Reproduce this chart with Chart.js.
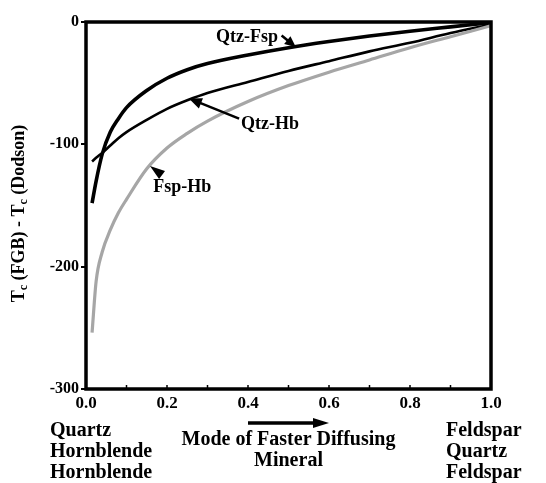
<!DOCTYPE html>
<html>
<head>
<meta charset="utf-8">
<script src="https://cdn.jsdelivr.net/npm/chart.js@4/dist/chart.umd.min.js"></script>
<style>
  html, body { margin: 0; padding: 0; background: #fff; }
  #wrap { width: 546px; height: 483px; position: relative; }
</style>
</head>
<body>
<div id="wrap"><canvas id="c" width="546" height="483"></canvas></div>
<script>
// ---- data ----
const modeX   = [0.015, 0.025, 0.04, 0.06, 0.08, 0.1, 0.15, 0.2, 0.25, 0.3, 0.4, 0.5, 0.6, 0.7, 0.8, 0.9, 1.0];
const qtzFsp  = [-148, -130, -108, -90, -79, -70, -56, -46, -39, -34, -27, -21, -16, -11.5, -7.5, -4, -0.5];
const qtzHb   = [-114, -111, -107, -101, -95, -90, -80, -71, -64, -58, -49, -40, -32, -24, -17, -9, -2];
const fspHb   = [-254, -212, -188, -170, -156, -145, -120, -103, -91, -81, -65, -52, -41, -31, -21, -12, -3];
const seriesNames = ['Qtz-Fsp', 'Qtz-Hb', 'Fsp-Hb'];
const xTickValues = [0, 0.2, 0.4, 0.6, 0.8, 1.0];
const xMinorTicks = [0, 0.1, 0.2, 0.3, 0.4, 0.5, 0.6, 0.7, 0.8, 0.9, 1.0];
const yTickValues = [-300, -200, -100, 0];
const leftLabels  = ['Quartz', 'Hornblende', 'Hornblende'];
const rightLabels = ['Feldspar', 'Quartz', 'Feldspar'];
const xTitleLines = ['Mode of Faster Diffusing', 'Mineral'];

const SERIF = '"Liberation Serif", "DejaVu Serif", serif';
const pts = ys => modeX.map((x, i) => ({ x: x, y: ys[i] }));

function arrowHead(ctx, x1, y1, x2, y2, len, half) {
  const ang = Math.atan2(y2 - y1, x2 - x1);
  ctx.beginPath();
  ctx.moveTo(x2, y2);
  ctx.lineTo(x2 - len * Math.cos(ang) + half * Math.sin(ang), y2 - len * Math.sin(ang) - half * Math.cos(ang));
  ctx.lineTo(x2 - len * Math.cos(ang) - half * Math.sin(ang), y2 - len * Math.sin(ang) + half * Math.cos(ang));
  ctx.closePath();
  ctx.fill();
}
function arrow(ctx, x1, y1, x2, y2, w, len, half) {
  const ang = Math.atan2(y2 - y1, x2 - x1);
  ctx.lineWidth = w;
  ctx.beginPath();
  ctx.moveTo(x1, y1);
  ctx.lineTo(x2 - (len - 1) * Math.cos(ang), y2 - (len - 1) * Math.sin(ang));
  ctx.stroke();
  arrowHead(ctx, x1, y1, x2, y2, len, half);
}

const decor = {
  id: 'decor',
  afterDraw(chart) {
    const { ctx, chartArea: a, scales: { x, y } } = chart;
    ctx.save();
    ctx.strokeStyle = '#000';
    ctx.fillStyle = '#000';
    // frame
    ctx.lineWidth = 3.5;
    ctx.strokeRect(a.left, a.top, a.right - a.left, a.bottom - a.top);
    // inward minor ticks on x axis
    ctx.lineWidth = 1.5;
    xMinorTicks.forEach(v => {
      const px = x.getPixelForValue(v);
      ctx.beginPath(); ctx.moveTo(px, a.bottom); ctx.lineTo(px, a.bottom - 4); ctx.stroke();
    });

    // curve labels
    ctx.font = 'bold 18px ' + SERIF;
    ctx.textBaseline = 'middle';
    ctx.textAlign = 'right';
    ctx.fillText(seriesNames[0], x.getPixelForValue(0.474), y.getPixelForValue(-12.3));
    arrow(ctx, x.getPixelForValue(0.483), y.getPixelForValue(-11), x.getPixelForValue(0.518), y.getPixelForValue(-20.5), 2.5, 11, 5);

    ctx.textAlign = 'left';
    ctx.fillText(seriesNames[1], x.getPixelForValue(0.383), y.getPixelForValue(-83.4));
    arrow(ctx, x.getPixelForValue(0.378), y.getPixelForValue(-79), x.getPixelForValue(0.254), y.getPixelForValue(-62.5), 2.5, 13, 5.5);

    ctx.fillText(seriesNames[2], x.getPixelForValue(0.166), y.getPixelForValue(-135));
    arrowHead(ctx, x.getPixelForValue(0.196), y.getPixelForValue(-127), x.getPixelForValue(0.158), y.getPixelForValue(-117.7), 15, 5);

    // bottom labels
    ctx.font = 'bold 20px ' + SERIF;
    ctx.textAlign = 'left';
    leftLabels.forEach((t, i) => ctx.fillText(t, a.left - 36, a.bottom + 42 + i * 21));
    rightLabels.forEach((t, i) => ctx.fillText(t, a.right - 45, a.bottom + 42 + i * 21));
    ctx.textAlign = 'center';
    const cx = x.getPixelForValue(0.5);
    xTitleLines.forEach((t, i) => ctx.fillText(t, cx, a.bottom + 51 + i * 21));
    arrow(ctx, x.getPixelForValue(0.4), a.bottom + 34, x.getPixelForValue(0.6), a.bottom + 34, 3.5, 16, 5);

    // y title with subscripts
    const parts = [['T', 0], ['c', 1], [' (FGB) - T', 0], ['c', 1], [' (Dodson)', 0]];
    const big = 'bold 18px ' + SERIF, small = 'bold 12px ' + SERIF;
    let total = 0;
    parts.forEach(p => { ctx.font = p[1] ? small : big; total += ctx.measureText(p[0]).width; });
    ctx.translate(18, (a.top + a.bottom) / 2 + 8);
    ctx.rotate(-Math.PI / 2);
    ctx.textAlign = 'left';
    ctx.textBaseline = 'alphabetic';
    let px = -total / 2;
    parts.forEach(p => {
      ctx.font = p[1] ? small : big;
      ctx.fillText(p[0], px, p[1] ? 9 : 6);
      px += ctx.measureText(p[0]).width;
    });
    ctx.restore();
  }
};

new Chart(document.getElementById('c'), {
  type: 'scatter',
  data: {
    datasets: [
      { label: seriesNames[2], data: pts(fspHb), showLine: true, borderColor: '#a6a6a6', borderWidth: 3.2, pointRadius: 0, cubicInterpolationMode: 'monotone' },
      { label: seriesNames[1], data: pts(qtzHb), showLine: true, borderColor: '#000', borderWidth: 2.6, pointRadius: 0, cubicInterpolationMode: 'monotone' },
      { label: seriesNames[0], data: pts(qtzFsp), showLine: true, borderColor: '#000', borderWidth: 3.6, pointRadius: 0, cubicInterpolationMode: 'monotone' }
    ]
  },
  options: {
    responsive: false,
    animation: false,
    layout: { padding: { top: 22, right: 55, left: 0, bottom: 0 } },
    plugins: { legend: { display: false }, tooltip: { enabled: false } },
    scales: {
      x: {
        type: 'linear', min: 0, max: 1,
        afterFit: s => { s.height = 94; },
        afterBuildTicks: s => { s.ticks = xTickValues.map(v => ({ value: v })); },
        grid: { display: true, drawOnChartArea: false, drawTicks: false, color: '#000' },
        border: { display: false },
        ticks: { color: '#000', padding: 4, font: { family: SERIF, size: 17, weight: 'bold' }, maxRotation: 0,
                 callback: v => Number(v).toFixed(1) }
      },
      y: {
        type: 'linear', min: -300, max: 0,
        afterFit: s => { s.width = 86; },
        afterBuildTicks: s => { s.ticks = yTickValues.map(v => ({ value: v })); },
        grid: { display: true, drawOnChartArea: false, drawTicks: true, tickLength: 5, color: '#000', lineWidth: 2 },
        border: { display: false },
        ticks: { color: '#000', padding: 2, font: { family: SERIF, size: 16, weight: 'bold' },
                 callback: v => String(v) }
      }
    }
  },
  plugins: [decor]
});
</script>
</body>
</html>
